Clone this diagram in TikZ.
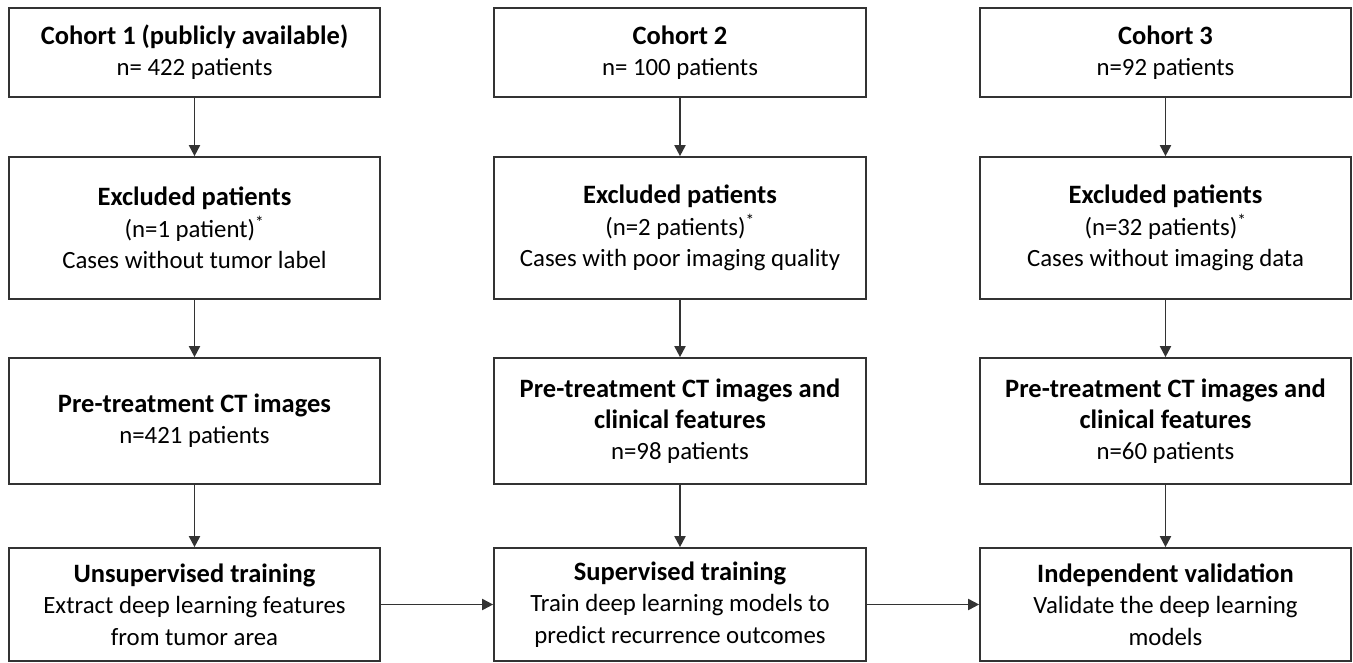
\documentclass[tikz,border=0pt]{standalone}
\usepackage{fontspec}
\setmainfont{Carlito}
\usetikzlibrary{arrows.meta}
\definecolor{edge}{HTML}{333333}
\tikzset{
  x=1pt, y=-1pt,
  box/.style={draw=edge, line width=1.7pt, fill=white, inner sep=0pt, align=center,
    font=\fontsize{24.8}{31.3}\selectfont, text=black},
  w1/.style={minimum width=371pt},
  w2/.style={minimum width=372pt},
  r1/.style={minimum height=89pt},
  r2/.style={minimum height=142pt},
  r3/.style={minimum height=126pt},
  r4/.style={minimum height=113pt},
  flow/.style={draw=edge, line width=1.9pt, -{Triangle[length=11pt,width=11pt]}},
}
\newcommand{\hd}[1]{{\fontsize{26.5}{31.3}\selectfont\bfseries #1}}
\begin{document}
\begin{tikzpicture}
\useasboundingbox (0,0) rectangle (1353,663);
% row 1
\node[box,w1,r1] (c1a) at (194.5,52.5) {\hd{Cohort 1 (publicly available)}\\n= 422 patients};
\node[box,w2,r1] (c2a) at (680,52.5) {\hd{Cohort 2}\\n= 100 patients};
\node[box,w1,r1] (c3a) at (1165.5,52.5) {\hd{Cohort 3}\\n=92 patients};
% row 2
\node[box,w1,r2] (c1b) at (194.5,228) {\hd{Excluded patients}\\(n=1 patient)\textsuperscript{*}\\Cases without tumor label};
\node[box,w2,r2] (c2b) at (680,228) {\hd{Excluded patients}\\(n=2 patients)\textsuperscript{*}\\Cases with poor imaging quality};
\node[box,w1,r2] (c3b) at (1165.5,228) {\hd{Excluded patients}\\(n=32 patients)\textsuperscript{*}\\Cases without imaging data};
% row 3
\node[box,w1,r3] (c1c) at (194.5,421) {\hd{Pre-treatment CT images}\\n=421 patients};
\node[box,w2,r3] (c2c) at (680,421) {\hd{Pre-treatment CT images and}\\\hd{clinical features}\\n=98 patients};
\node[box,w1,r3] (c3c) at (1165.5,421) {\hd{Pre-treatment CT images and}\\\hd{clinical features}\\n=60 patients};
% row 4
\node[box,w1,r4] (c1d) at (194.5,604.5) {\hd{Unsupervised training}\\Extract deep learning features\\from tumor area};
\node[box,w2,r4] (c2d) at (680,604.5) {\hd{Supervised training}\\Train deep learning models to\\predict recurrence outcomes};
\node[box,w1,r4] (c3d) at (1165.5,604.5) {\hd{Independent validation}\\Validate the deep learning\\models};
% arrows
\foreach \a/\b in {c1a/c1b,c1b/c1c,c1c/c1d,c2a/c2b,c2b/c2c,c2c/c2d,c3a/c3b,c3b/c3c,c3c/c3d}
  \draw[flow] (\a) -- (\b);
\draw[flow] (c1d) -- (c2d);
\draw[flow] (c2d) -- (c3d);
\end{tikzpicture}
\end{document}
